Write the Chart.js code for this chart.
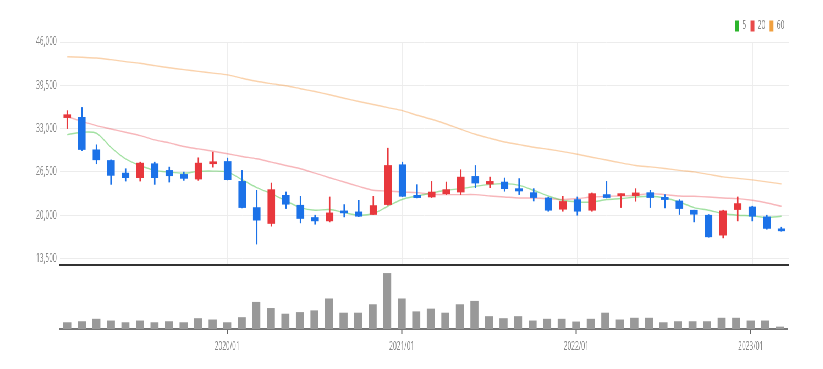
<!DOCTYPE html>
<html>
<head>
<meta charset="utf-8">
<script src="https://cdn.jsdelivr.net/npm/chart.js@4.4.1/dist/chart.umd.min.js"></script>
<style>
  html, body { margin: 0; padding: 0; background: #fff; overflow: hidden; }
  /* the reference is squeezed sideways, so draw wide and scale down */
  #wrap { position: absolute; left: 0; top: 0; width: 1496px; height: 369px; transform: scaleX(0.55); transform-origin: 0 0; }
  #priceBox { position: absolute; left: 0; top: 0; width: 1496px; height: 268px; }
  #volumeBox { position: absolute; left: 0; top: 265px; width: 1496px; height: 104px; }
</style>
</head>
<body>
<div id="wrap">
  <div id="priceBox"><canvas id="priceChart"></canvas></div>
  <div id="volumeBox"><canvas id="volumeChart"></canvas></div>
</div>
<script>
const months = [
  '2019/02', '2019/03', '2019/04', '2019/05', '2019/06', '2019/07', '2019/08', '2019/09', '2019/10', '2019/11', '2019/12',
  '2020/01', '2020/02', '2020/03', '2020/04', '2020/05', '2020/06', '2020/07', '2020/08', '2020/09', '2020/10', '2020/11', '2020/12',
  '2021/01', '2021/02', '2021/03', '2021/04', '2021/05', '2021/06', '2021/07', '2021/08', '2021/09', '2021/10', '2021/11', '2021/12',
  '2022/01', '2022/02', '2022/03', '2022/04', '2022/05', '2022/06', '2022/07', '2022/08', '2022/09', '2022/10', '2022/11', '2022/12',
  '2023/01', '2023/02', '2023/03'
];

const opens = [34650, 34690, 29820, 28220, 26320, 25640, 27730, 26730, 26130, 25430,
  27730, 28070, 25080, 21150, 18760, 22990, 21500, 19660, 19150, 20600,
  20500, 20110, 21600, 27580, 22990, 22740, 23240, 23480, 25830, 24680,
  24980, 23990, 23390, 22590, 20900, 22350, 20750, 23100, 22940, 22940,
  23390, 22690, 22140, 20750, 20000, 17010, 20850, 21240, 19750, 17960];
const highs = [35700, 36180, 30570, 28300, 26980, 27960, 27960, 27220, 26470, 28620,
  29460, 28570, 26730, 23740, 24830, 23490, 22840, 20000, 22740, 21600,
  22240, 22840, 30060, 27960, 24590, 25080, 24980, 26830, 27470, 25720,
  25580, 25500, 23990, 22700, 22840, 22740, 23340, 25080, 23200, 23990,
  23740, 23100, 22350, 20750, 20100, 20750, 22740, 21350, 20000, 18200];
const lows = [33000, 29700, 27730, 24630, 25130, 25130, 24630, 24980, 25230, 25230,
  27220, 25300, 21100, 15670, 18360, 21000, 18850, 18650, 19000, 19750,
  19800, 20100, 21500, 22800, 22600, 22650, 23100, 23100, 24140, 24140,
  23600, 23100, 22140, 20600, 20600, 20000, 20600, 22600, 21150, 22100,
  21150, 21100, 20110, 19000, 16700, 16600, 19150, 19150, 17900, 17600];
const closes = [35090, 29860, 28320, 25980, 25640, 27820, 25640, 25930, 25530, 27820,
  28030, 25340, 21150, 19260, 23840, 21650, 19510, 19150, 20350, 20350,
  19850, 21450, 27470, 22840, 22640, 23480, 23840, 25720, 24830, 25080,
  23990, 23640, 22650, 20750, 22070, 20600, 23240, 22650, 23140, 23350,
  22650, 22350, 21000, 20150, 16760, 20650, 21750, 19850, 18020, 17660];

const ma5 = [32100, 32450, 32300, 30200, 28470, 27470, 26730, 26470, 26320, 26580,
  26620, 26470, 25340, 24140, 23250, 22140, 21150, 20750, 20850, 20400,
  20000, 20250, 21350, 22400, 22890, 23330, 23740, 23990, 24330, 24630,
  24740, 24480, 23740, 22890, 22240, 21990, 21990, 22350, 22500, 22740,
  22840, 22590, 21990, 21150, 20750, 20250, 20000, 19900, 19660, 19850];
const ma20 = [34790, 34090, 33450, 32950, 32450, 31950, 31310, 30860, 30310, 29960,
  29610, 29220, 28820, 28470, 27970, 27470, 26980, 26320, 25630, 24980,
  24330, 23740, 23630, 23480, 23390, 23140, 23090, 23090, 23090, 22890,
  22740, 22590, 22590, 22500, 22350, 22500, 22740, 22840, 22890, 22990,
  23240, 23090, 22890, 22840, 22740, 22590, 22490, 22240, 21840, 21350];
const ma60 = [43780, 43700, 43600, 43350, 43050, 42800, 42450, 42130, 41850, 41590,
  41330, 41070, 40550, 40100, 39750, 39430, 38990, 38560, 38080, 37560,
  37080, 36620, 36150, 35700, 35000, 34400, 33700, 32900, 32150, 31550,
  31000, 30600, 30200, 29900, 29550, 29150, 28700, 28300, 27850, 27470,
  27250, 27020, 26730, 26500, 26130, 25750, 25530, 25300, 25000, 24700];

const volumes = [63, 73, 97, 80, 63, 80, 63, 73, 63, 103,
  90, 63, 113, 263, 203, 147, 163, 180, 297, 157,
  157, 240, 547, 297, 170, 197, 157, 240, 273, 123,
  103, 123, 80, 97, 97, 70, 97, 157, 90, 107,
  107, 63, 73, 73, 73, 107, 107, 80, 80, 20];

const priceTicks = [13500, 20000, 26500, 33000, 39500, 46000];

const UP = '#e8383d';
const DOWN = '#1c72e8';
const tickFont = { family: 'Open Sans', size: 12 };
const isJan = i => months[i] && months[i].endsWith('/01');

const candleColors = opens.map((o, i) => closes[i] >= o ? UP : DOWN);
const wicks = lows.map((l, i) => [l, highs[i]]);
const bodies = opens.map((o, i) => [o, closes[i]]);

const maLines = [
  { label: '5', data: ma5, line: 'rgba(70,195,70,0.5)', box: '#2cb52c' },
  { label: '20', data: ma20, line: 'rgba(235,80,90,0.42)', box: '#e84a4a' },
  { label: '60', data: ma60, line: 'rgba(245,155,70,0.45)', box: '#f0a040' }
];

new Chart(document.getElementById('priceChart'), {
  type: 'bar',
  data: {
    labels: months,
    datasets: [
      { label: 'wick', data: wicks, backgroundColor: candleColors, barThickness: 2, grouped: false, order: 2 },
      { label: 'body', data: bodies, backgroundColor: candleColors, barThickness: 13, minBarLength: 2, grouped: false, order: 1 },
      ...maLines.map(m => ({
        type: 'line', label: m.label, data: m.data,
        borderColor: m.line, backgroundColor: m.box,
        borderWidth: 1.4, pointRadius: 0, tension: 0.3, order: 3
      }))
    ]
  },
  options: {
    responsive: true,
    maintainAspectRatio: false,
    animation: false,
    layout: { padding: { left: 0, right: 62, top: 12, bottom: 3 } },
    plugins: {
      tooltip: { enabled: false },
      legend: {
        position: 'top',
        align: 'end',
        labels: {
          boxWidth: 7,
          boxHeight: 11,
          padding: 8,
          color: '#888',
          font: { family: 'Open Sans', size: 12 },
          generateLabels: chart => maLines.map((m, k) => ({
            text: m.label, fillStyle: m.box, strokeStyle: m.box, lineWidth: 0,
            fontColor: '#888', datasetIndex: k + 2, hidden: false
          }))
        }
      }
    },
    scales: {
      x: {
        offset: true,
        afterFit: scale => { scale.height = 0; },
        grid: {
          offset: false,
          drawTicks: false,
          lineWidth: 2,
          color: ctx => isJan(ctx.index) ? '#eeeeee' : 'rgba(0,0,0,0)'
        },
        border: { color: '#333', width: 2 },
        ticks: { display: false }
      },
      y: {
        min: 12530,
        max: 46000,
        afterBuildTicks: scale => { scale.ticks = priceTicks.map(v => ({ value: v })); },
        afterFit: scale => { scale.width = 109; scale.paddingBottom = 0; },
        grid: { color: '#ececec', drawTicks: false },
        border: { display: false },
        ticks: {
          color: '#888',
          font: tickFont,
          padding: 6,
          callback: v => v.toLocaleString('en-US')
        }
      }
    }
  }
});

new Chart(document.getElementById('volumeChart'), {
  type: 'bar',
  data: {
    labels: months,
    datasets: [{
      label: 'volume',
      data: volumes,
      backgroundColor: '#999999',
      barThickness: 14
    }]
  },
  options: {
    responsive: true,
    maintainAspectRatio: false,
    animation: false,
    layout: { padding: { left: 109, right: 65, top: 3, bottom: 0 } },
    plugins: { legend: { display: false }, tooltip: { enabled: false } },
    scales: {
      x: {
        offset: true,
        afterFit: scale => { scale.height = 40; },
        grid: {
          offset: false,
          drawOnChartArea: false,
          tickLength: 5,
          tickWidth: 2,
          tickColor: ctx => isJan(ctx.index) ? '#666' : 'rgba(0,0,0,0)'
        },
        border: { color: '#777', width: 2 },
        ticks: {
          autoSkip: false,
          maxRotation: 0,
          color: '#888',
          font: tickFont,
          padding: 5,
          callback: (v, i) => isJan(i) ? months[i] : ''
        }
      },
      y: { display: false, min: 0, max: 600 }
    }
  }
});
</script>
</body>
</html>
